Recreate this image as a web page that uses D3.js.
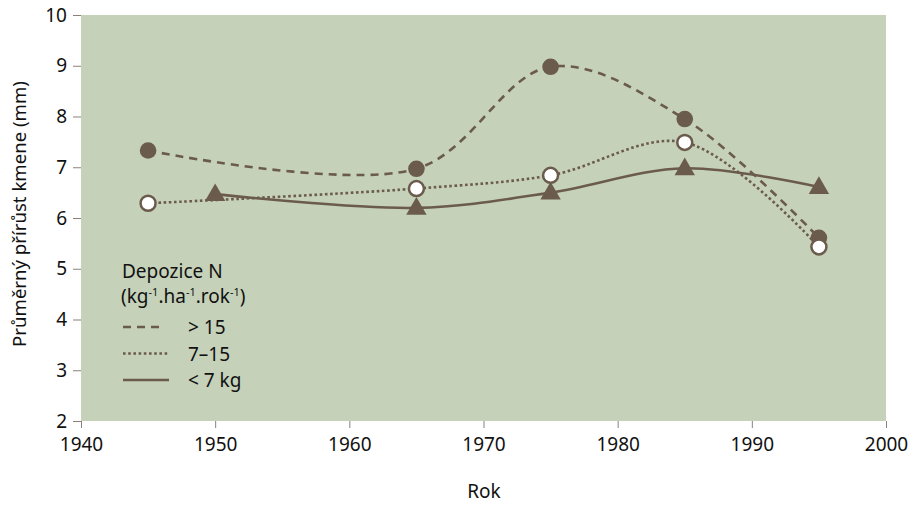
<!DOCTYPE html>
<html><head><meta charset="utf-8">
<script src="https://cdn.jsdelivr.net/npm/d3@7"></script>
<style>body{margin:0;background:#fff;font-family:"Noto Sans","Open Sans",sans-serif;}</style>
</head><body><svg id="c" width="914" height="505"></svg>
<script>
const xTicks = [1940,1950,1960,1970,1980,1990,2000];
const yTicks = [2,3,4,5,6,7,8,9,10];
const yearsHigh = [1945,1965,1975,1985,1995];
const valsHigh = [7.33,6.97,8.98,7.95,5.61];
const yearsMid = [1945,1965,1975,1985,1995];
const valsMid = [6.29,6.58,6.84,7.49,5.43];
const yearsLow = [1950,1965,1975,1985,1995];
const valsLow = [6.47,6.2,6.5,6.98,6.61];
const legendTitle = ["Depozice N"];
const legendLabels = ["> 15","7–15","< 7 kg"];

const brown = "#6b5b4d", green = "#c5d1b9", tickCol = "#8c817a";
const FS = 19;
const svg = d3.select("#c");
const L=81, R=886, T=15, B=421;
const x = d3.scaleLinear().domain([1940,2000]).range([L,R]);
const y = d3.scaleLinear().domain([2,10]).range([B,T]);

svg.append("rect").attr("x",L).attr("y",T).attr("width",R-L).attr("height",B-T).attr("fill",green);

const ya = svg.append("g").attr("transform",`translate(${L},0)`)
  .call(d3.axisLeft(y).tickValues(yTicks).tickSize(8).tickPadding(6));
ya.select(".domain").remove();
ya.selectAll("line").attr("stroke",tickCol);
ya.selectAll("text").attr("font-size",FS).attr("fill","#111").attr("font-family","Noto Sans");

const xa = svg.append("g").attr("transform",`translate(0,${B})`)
  .call(d3.axisBottom(x).tickValues(xTicks).tickFormat(d3.format("d")).tickSize(7).tickPadding(10));
xa.select(".domain").remove();
xa.selectAll("line").attr("stroke",tickCol);
xa.selectAll("text").attr("font-size",FS).attr("fill","#111").attr("font-family","Noto Sans");

svg.append("text").attr("transform","translate(26,214) rotate(-90)").attr("text-anchor","middle")
  .attr("font-size",18.6).attr("fill","#111").text("Průměrný přírůst kmene (mm)");
svg.append("text").attr("x",484).attr("y",498).attr("text-anchor","middle")
  .attr("font-size",FS).attr("fill","#111").text("Rok");

const line = d3.line().x(d=>x(d[0])).y(d=>y(d[1])).curve(d3.curveCatmullRom.alpha(0.5));
const zip = (a,b)=>a.map((v,i)=>[v,b[i]]);
const dHigh = zip(yearsHigh,valsHigh), dMid = zip(yearsMid,valsMid), dLow = zip(yearsLow,valsLow);

svg.append("path").datum(dLow).attr("d",line).attr("fill","none").attr("stroke",brown).attr("stroke-width",2.6);
svg.append("path").datum(dMid).attr("d",line).attr("fill","none").attr("stroke",brown).attr("stroke-width",2.6).attr("stroke-dasharray","2.6 2.6");
svg.append("path").datum(dHigh).attr("d",line).attr("fill","none").attr("stroke",brown).attr("stroke-width",2.6).attr("stroke-dasharray","8 6");

const tri = d3.symbol().type(d3.symbolTriangle).size(180);
svg.selectAll(".tri").data(dLow).join("path").attr("d",tri)
  .attr("transform",d=>`translate(${x(d[0])},${y(d[1])+1})`).attr("fill",brown);
svg.selectAll(".ch").data(dHigh).join("circle").attr("cx",d=>x(d[0])).attr("cy",d=>y(d[1])).attr("r",8.3).attr("fill",brown);
svg.selectAll(".cm").data(dMid).join("circle").attr("cx",d=>x(d[0])).attr("cy",d=>y(d[1])).attr("r",7.5)
  .attr("fill","#fff").attr("stroke",brown).attr("stroke-width",2.5);

// legend
const lg = svg.append("g");
lg.append("text").attr("x",122).attr("y",278).attr("font-size",FS).attr("fill","#111").text(legendTitle[0]);
const t2 = lg.append("text").attr("x",121).attr("y",303).attr("font-size",FS).attr("fill","#111");
t2.append("tspan").text("(kg");
t2.append("tspan").attr("font-size",11).attr("dy",-7).text("-1");
t2.append("tspan").attr("dy",7).text(".ha");
t2.append("tspan").attr("font-size",11).attr("dy",-7).text("-1");
t2.append("tspan").attr("dy",7).text(".rok");
t2.append("tspan").attr("font-size",11).attr("dy",-7).text("-1");
t2.append("tspan").attr("dy",7).text(")");
const dashes = ["8 6","2.6 2.6",null];
const lx2 = [165,169,169];
legendLabels.forEach((lab,i)=>{
  const yy = 327 + i*26.5;
  const l = lg.append("line").attr("x1",123).attr("x2",lx2[i]).attr("y1",yy).attr("y2",yy)
    .attr("stroke",brown).attr("stroke-width",2.6);
  if(dashes[i]) l.attr("stroke-dasharray",dashes[i]);
  lg.append("text").attr("x",188).attr("y",yy+7).attr("font-size",FS).attr("fill","#111").text(lab);
});
</script></body></html>
